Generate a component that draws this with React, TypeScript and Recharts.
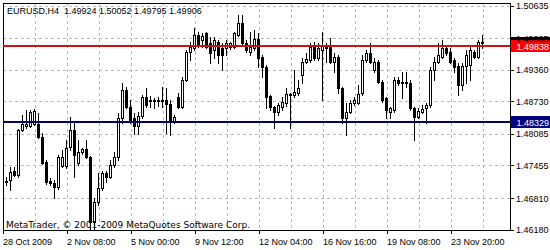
import React from 'react';
import {
  ComposedChart, Bar, XAxis, YAxis, CartesianGrid, ReferenceLine, ReferenceArea
} from 'recharts';

// EURUSD H4 bars, oldest first
const opens = [
  1.47174, 1.47154, 1.47174, 1.47353, 1.47274, 1.48169, 1.48249, 1.48249, 1.48288, 1.48288,
  1.48030, 1.47533, 1.47154, 1.47114, 1.47035, 1.47453, 1.47453, 1.47831, 1.48169, 1.47513,
  1.47731, 1.47791, 1.47632, 1.46339, 1.46736, 1.47015, 1.47314, 1.47234, 1.47473, 1.47632,
  1.48408, 1.48965, 1.48627, 1.48408, 1.48249, 1.48447, 1.48825, 1.48766, 1.48746, 1.48766,
  1.48746, 1.48766, 1.48686, 1.48328, 1.48825, 1.48627, 1.49164, 1.49720, 1.49800, 1.50059,
  1.49959, 1.50098, 1.49899, 1.49760, 1.49919, 1.49800, 1.49800, 1.49820, 1.49820, 1.50059,
  1.50297, 1.49899, 1.49720, 1.49800, 1.49979, 1.49621, 1.49422, 1.48845, 1.48627, 1.48527,
  1.48627, 1.48706, 1.48885, 1.48865, 1.48905, 1.49263, 1.49522, 1.49561, 1.49860, 1.49601,
  1.49760, 1.49860, 1.49820, 1.49522, 1.49621, 1.49004, 1.48408, 1.48527, 1.48706, 1.48706,
  1.48905, 1.49561, 1.49701, 1.49362, 1.49522, 1.49124, 1.48806, 1.48527, 1.48567, 1.49164,
  1.49104, 1.49104, 1.49104, 1.48607, 1.48428, 1.48527, 1.48607, 1.48666, 1.49362, 1.49522,
  1.49621, 1.49800, 1.49720, 1.49561, 1.49442, 1.49064, 1.49442, 1.49462, 1.49720, 1.49621,
  1.49924,
];
const highs = [
  1.47314, 1.47234, 1.47433, 1.47433, 1.48189, 1.48467, 1.48567, 1.48567, 1.48587, 1.48507,
  1.48109, 1.47572, 1.47214, 1.47174, 1.47672, 1.47771, 1.47970, 1.48428, 1.48308, 1.47970,
  1.47811, 1.47970, 1.47652, 1.46816, 1.47314, 1.47353, 1.47353, 1.47572, 1.47731, 1.48507,
  1.49104, 1.49024, 1.48766, 1.48507, 1.48527, 1.48865, 1.49004, 1.48845, 1.48806, 1.48825,
  1.49024, 1.49004, 1.48766, 1.48467, 1.48905, 1.49223, 1.49760, 1.49919, 1.50198, 1.50118,
  1.50098, 1.50118, 1.50019, 1.50019, 1.49959, 1.49899, 1.49959, 1.49919, 1.50118, 1.50456,
  1.50456, 1.49959, 1.50118, 1.50158, 1.50098, 1.49661, 1.49462, 1.48865, 1.48646, 1.48706,
  1.48825, 1.49004, 1.48905, 1.49362, 1.49164, 1.49601, 1.49701, 1.49899, 1.49919, 1.49899,
  1.50118, 1.49899, 1.49999, 1.49701, 1.49661, 1.49024, 1.48706, 1.48766, 1.48825, 1.49064,
  1.49661, 1.49760, 1.49899, 1.49601, 1.49561, 1.49164, 1.48825, 1.48627, 1.49223, 1.49223,
  1.49323, 1.49323, 1.49164, 1.48627, 1.48607, 1.48666, 1.48706, 1.49422, 1.49621, 1.49899,
  1.49959, 1.49820, 1.49800, 1.49601, 1.49502, 1.49502, 1.49760, 1.49860, 1.49760, 1.49959,
  1.50052,
];
const lows = [
  1.46876, 1.47075, 1.46975, 1.47254, 1.47234, 1.48149, 1.48209, 1.48229, 1.48268, 1.48010,
  1.47493, 1.47094, 1.47075, 1.46816, 1.46995, 1.47433, 1.47413, 1.47771, 1.47234, 1.47473,
  1.47692, 1.47612, 1.46200, 1.46200, 1.46677, 1.46975, 1.47134, 1.47214, 1.47433, 1.47572,
  1.48308, 1.48607, 1.48308, 1.48089, 1.48089, 1.48408, 1.48627, 1.48627, 1.48607, 1.48646,
  1.48627, 1.48109, 1.48069, 1.48308, 1.48607, 1.48607, 1.49144, 1.49561, 1.49760, 1.49820,
  1.49820, 1.49800, 1.49502, 1.49601, 1.49502, 1.49362, 1.49661, 1.49780, 1.49800, 1.50039,
  1.49860, 1.49720, 1.49661, 1.49760, 1.49422, 1.49223, 1.48607, 1.48567, 1.48209, 1.48467,
  1.48567, 1.48646, 1.48209, 1.48825, 1.48865, 1.49104, 1.49502, 1.49522, 1.49561, 1.49561,
  1.48766, 1.49522, 1.49502, 1.49323, 1.48905, 1.48308, 1.48069, 1.48507, 1.48666, 1.48686,
  1.48865, 1.49522, 1.49502, 1.49323, 1.49104, 1.48726, 1.48408, 1.48408, 1.48527, 1.49064,
  1.48806, 1.49024, 1.48567, 1.47970, 1.48408, 1.48507, 1.48308, 1.48627, 1.49164, 1.49502,
  1.49601, 1.49661, 1.49502, 1.49323, 1.48865, 1.48965, 1.49104, 1.49164, 1.49601, 1.49601,
  1.49795,
];
const closes = [
  1.47114, 1.47134, 1.47333, 1.47274, 1.48169, 1.48288, 1.48288, 1.48527, 1.48547, 1.48030,
  1.47513, 1.47134, 1.47114, 1.47035, 1.47632, 1.47632, 1.47811, 1.48169, 1.47672, 1.47731,
  1.47791, 1.47632, 1.46339, 1.46736, 1.47015, 1.47314, 1.47234, 1.47473, 1.47632, 1.48408,
  1.48965, 1.48627, 1.48328, 1.48249, 1.48447, 1.48825, 1.48666, 1.48746, 1.48766, 1.48746,
  1.48766, 1.48686, 1.48328, 1.48428, 1.48627, 1.49164, 1.49720, 1.49820, 1.50059, 1.49860,
  1.50039, 1.49820, 1.49701, 1.49959, 1.49661, 1.49661, 1.49899, 1.49899, 1.50098, 1.50297,
  1.49899, 1.49760, 1.49820, 1.49979, 1.49601, 1.49422, 1.48825, 1.48627, 1.48527, 1.48666,
  1.48726, 1.48885, 1.48865, 1.48925, 1.49004, 1.49522, 1.49581, 1.49820, 1.49601, 1.49800,
  1.49860, 1.49800, 1.49522, 1.49621, 1.49004, 1.48408, 1.48527, 1.48706, 1.48766, 1.48885,
  1.49561, 1.49701, 1.49522, 1.49522, 1.49124, 1.48766, 1.48567, 1.48607, 1.49164, 1.49104,
  1.49124, 1.49124, 1.48607, 1.48428, 1.48547, 1.48587, 1.48666, 1.49362, 1.49522, 1.49661,
  1.49800, 1.49701, 1.49522, 1.49422, 1.49064, 1.49442, 1.49661, 1.49760, 1.49621, 1.49919,
  1.49906,
];

const timeTicks = [0, 16, 32, 48, 64, 80, 96, 112];
const timeLabels = [
  '28 Oct 2009', '2 Nov 08:00', '5 Nov 00:00', '9 Nov 12:00',
  '12 Nov 04:00', '16 Nov 16:00', '19 Nov 08:00', '23 Nov 20:00',
];
const gridTicks = [0, 8, 16, 24, 32, 40, 48, 56, 64, 72, 80, 88, 96, 104, 112, 120];
const priceTicks = [1.50635, 1.49985, 1.49360, 1.48730, 1.48085, 1.47455, 1.46810, 1.46180];
const priceDomain = [1.46180, 1.50695];
const slotDomain = [0, 126.75];

const resistance = 1.49838;
const support = 1.48329;

const symbol = 'EURUSD,H4';
const copyright = 'MetaTrader, \u00A9 2001-2009 MetaQuotes Software Corp.';

const bars = opens.map((o, i) => ({
  idx: i,
  open: o,
  high: highs[i],
  low: lows[i],
  close: closes[i],
  range: [lows[i], highs[i]],
}));
const last = bars[bars.length - 1];

const FONT = "'Liberation Sans', Arial, sans-serif";

const Candle = (props: any) => {
  const { x, y, width, height, payload } = props;
  if (x == null || y == null) return null;
  const { open, close, high, low } = payload;
  const cx = Math.floor(x + width / 2);
  const perUnit = height / (high - low || 1);
  const py = (v: number) => y + (high - v) * perUnit;
  const top = Math.round(py(Math.max(open, close)));
  const bot = Math.round(py(Math.min(open, close)));
  const up = close >= open;
  return (
    <g>
      <line x1={cx + 0.5} x2={cx + 0.5} y1={Math.round(y)} y2={Math.round(y + height) + 1} stroke="#000" />
      <rect
        x={cx - 0.5}
        y={top + 0.5}
        width={2}
        height={Math.max(bot - top, 0)}
        fill={up ? '#fff' : '#000'}
        stroke="#000"
      />
    </g>
  );
};

const TimeTick = ({ x, y, payload }: any) => {
  const k = timeTicks.indexOf(payload.value);
  if (k < 0) return <g />;
  return (
    <g>
      <line x1={x} x2={x} y1={y - 4} y2={y} stroke="#000" />
      <text x={x} y={y + 10.5} fontSize={9} fontFamily={FONT} fill="#000">
        {timeLabels[k]}
      </text>
    </g>
  );
};

// price marker on the right scale; the bid marker sits behind the red one, so it has no text
const PriceTag = ({ viewBox, text, bg }: any) => {
  if (!viewBox) return null;
  const left = viewBox.x + viewBox.width + 1;
  const cy = Math.round(viewBox.y);
  return (
    <g>
      <rect x={left} y={cy - 6} width={40} height={12} fill={bg} />
      {text && (
        <text x={left + 5.5} y={cy + 3.5} fontSize={9} fontFamily={FONT} fill="#fff">
          {text}
        </text>
      )}
    </g>
  );
};

export default function App() {
  return (
    <div style={{ position: 'absolute', left: 0, top: 0, width: 550, height: 250, background: '#fff' }}>
      <ComposedChart
        width={550}
        height={250}
        data={bars}
        margin={{ top: 3, right: 0, left: 3, bottom: 0 }}
        style={{ shapeRendering: 'crispEdges' }}
      >
        <CartesianGrid stroke="#b8b8b8" strokeDasharray="3 3" />
        <XAxis
          dataKey="idx"
          type="number"
          domain={slotDomain}
          ticks={gridTicks}
          allowDataOverflow
          height={20}
          tickLine={false}
          tickSize={4}
          tickMargin={0}
          axisLine={{ stroke: '#000' }}
          tick={<TimeTick />}
          interval={0}
        />
        <YAxis
          orientation="right"
          type="number"
          domain={priceDomain}
          ticks={priceTicks}
          allowDataOverflow
          width={40}
          tickSize={4}
          tickMargin={2}
          interval={0}
          axisLine={{ stroke: '#000' }}
          tickLine={{ stroke: '#000' }}
          tick={{ fill: '#000', fontSize: 9, fontFamily: FONT }}
          tickFormatter={(v: number) => v.toFixed(5)}
        />
        <ReferenceArea
          x1={slotDomain[0]}
          x2={slotDomain[1]}
          y1={priceDomain[0]}
          y2={priceDomain[1]}
          fill="none"
          stroke="#000"
          fillOpacity={0}
        />
        <Bar dataKey="range" barSize={3} shape={<Candle />} isAnimationActive={false} />
        <ReferenceLine
          y={last.close}
          stroke="none"
          label={<PriceTag bg="#000" />}
        />
        <ReferenceLine
          y={resistance}
          stroke="#cc1111"
          strokeWidth={2}
          label={<PriceTag text={resistance.toFixed(5)} bg="#ff0000" />}
        />
        <ReferenceLine
          y={support}
          stroke="#00006e"
          strokeWidth={2}
          label={<PriceTag text={support.toFixed(5)} bg="#000080" />}
        />
      </ComposedChart>
      <svg
        width={550}
        height={250}
        style={{ position: 'absolute', left: 0, top: 0, pointerEvents: 'none' }}
      >
        <text x={7} y={14} fontSize={9} fontFamily={FONT} fill="#000" style={{ whiteSpace: 'pre' }}>
          {`${symbol}  ${last.open.toFixed(5)} ${last.high.toFixed(5)} ${last.low.toFixed(5)} ${last.close.toFixed(5)}`}
        </text>
        <text x={6} y={227.5} fontSize={9} fontFamily="'DejaVu Sans', sans-serif" fill="#000">
          {copyright}
        </text>
      </svg>
    </div>
  );
}
